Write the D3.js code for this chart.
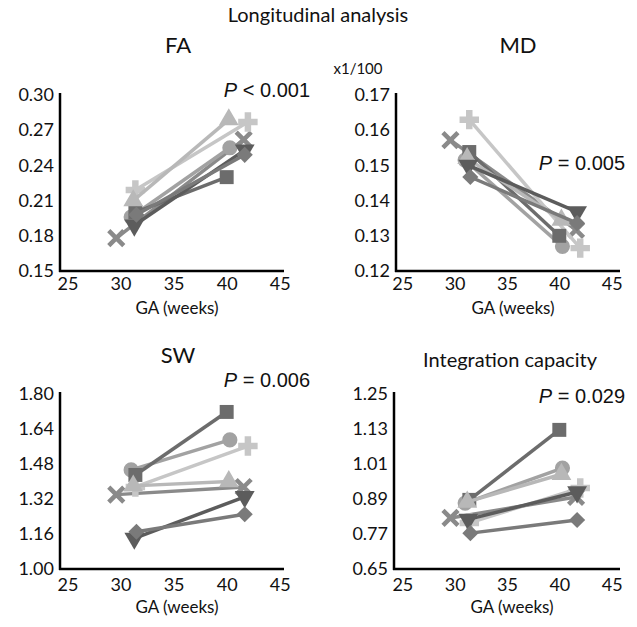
<!DOCTYPE html>
<html>
<head>
<meta charset="utf-8">
<title>Longitudinal analysis</title>
<script src="https://cdn.jsdelivr.net/npm/d3@7"></script>
<style>
  body { margin: 0; background: #fff; }
  text { font-family: Lato, "Open Sans", sans-serif; fill: #111; }
  .pval { font-family: "Liberation Sans", Arial, sans-serif; }
</style>
</head>
<body>
<svg id="chart" width="637" height="627"></svg>
<script>
// one entry per infant, marker shape names
const subjects = ["x", "plus", "circle", "square", "triUp", "triDown", "diamond"];

// gestational age at the two scans (weeks)
const gaScan1 = [29.6, 31.4, 31.0, 31.4, 31.2, 31.3, 31.5];
const gaScan2 = [41.6, 42.0, 40.3, 40.0, 40.2, 41.7, 41.7];

const faScan1 = [0.178, 0.219, 0.196, 0.200, 0.210, 0.189, 0.198];
const faScan2 = [0.262, 0.277, 0.255, 0.230, 0.279, 0.253, 0.249];
const mdScan1 = [0.1572, 0.163, 0.1515, 0.1538, 0.152, 0.150, 0.1467];
const mdScan2 = [0.1317, 0.1265, 0.127, 0.130, 0.1345, 0.1368, 0.1336];
const swScan1 = [1.34, 1.375, 1.453, 1.43, 1.38, 1.14, 1.17];
const swScan2 = [1.375, 1.562, 1.59, 1.718, 1.40, 1.33, 1.25];
const icScan1 = [0.825, 0.808, 0.876, 0.887, 0.88, 0.82, 0.773];
const icScan2 = [0.897, 0.928, 0.996, 1.127, 0.975, 0.914, 0.818];

const xTicks = [25, 30, 35, 40, 45];
const faTicks = [0.15, 0.18, 0.21, 0.24, 0.27, 0.30];
const mdTicks = [0.12, 0.13, 0.14, 0.15, 0.16, 0.17];
const swTicks = [1.00, 1.16, 1.32, 1.48, 1.64, 1.80];
const icTicks = [0.65, 0.77, 0.89, 1.01, 1.13, 1.25];

const pLabels = ["< 0.001", "= 0.005", "= 0.006", "= 0.029"];

// styling for each infant
const colors = {
  x: "#8a8a8a", plus: "#c6c6c6", circle: "#a2a2a2", square: "#6c6c6c",
  triUp: "#b8b8b8", triDown: "#5c5c5c", diamond: "#7a7a7a"
};

// panel layout
const panels = [
  { title: "FA", s1: faScan1, s2: faScan2, ticks: faTicks, fmt: ".2f",
    left: 60, right: 284, xDom: [24.3, 45.4], yRange: [271, 95], gaY: 310, pad: 6,
    tx: 178, ty: 47, px: 310, py: 92, p: pLabels[0] },
  { title: "MD", s1: mdScan1, s2: mdScan2, ticks: mdTicks, fmt: ".2f",
    left: 396, right: 620, xDom: [24.4, 45.8], yRange: [271, 95], gaY: 310, pad: 6,
    tx: 518, ty: 47, px: 625, py: 165, p: pLabels[1] },
  { title: "SW", s1: swScan1, s2: swScan2, ticks: swTicks, fmt: ".2f",
    left: 60, right: 284, xDom: [24.3, 45.4], yRange: [569, 394], gaY: 609, pad: 9,
    tx: 178, ty: 357, px: 310, py: 382, p: pLabels[2] },
  { title: "Integration capacity", s1: icScan1, s2: icScan2, ticks: icTicks, fmt: ".2f",
    left: 394, right: 620, xDom: [24.2, 45.8], yRange: [569, 394], gaY: 609, pad: 9,
    tx: 510, ty: 362, px: 625, py: 398, p: pLabels[3] }
];

const svg = d3.select("#chart");

svg.append("text")
  .attr("x", 318).attr("y", 17)
  .attr("text-anchor", "middle").attr("dominant-baseline", "middle")
  .style("font-size", "20px")
  .text("Longitudinal analysis");

svg.append("text")
  .attr("x", 358).attr("y", 70)
  .attr("text-anchor", "middle").attr("dominant-baseline", "middle")
  .style("font-size", "15px")
  .text("x1/100");

function marker(g, shape, x, y, color) {
  if (shape === "x") {
    const r = 7.5;
    g.append("path")
      .attr("d", `M${x - r},${y - r}L${x + r},${y + r}M${x - r},${y + r}L${x + r},${y - r}`)
      .attr("stroke", color).attr("stroke-width", 4.5).attr("fill", "none");
    return;
  }
  const types = {
    plus: [d3.symbolCross, 210, 0],
    circle: [d3.symbolCircle, 180, 0],
    square: [d3.symbolSquare, 195, 0],
    triUp: [d3.symbolTriangle, 170, 0],
    triDown: [d3.symbolTriangle, 170, 180],
    diamond: [d3.symbolSquare, 130, 45]
  };
  const [type, size, rot] = types[shape];
  g.append("path")
    .attr("d", d3.symbol().type(type).size(size)())
    .attr("transform", `translate(${x},${y}) rotate(${rot})`)
    .attr("fill", color);
}

panels.forEach(p => {
  const x = d3.scaleLinear().domain(p.xDom).range([p.left, p.right]);
  const y = d3.scaleLinear().domain([p.ticks[0], p.ticks[p.ticks.length - 1]]).range(p.yRange);
  const base = p.yRange[0];
  const g = svg.append("g");

  // axes
  const xa = g.append("g")
    .attr("transform", `translate(0,${base})`)
    .call(d3.axisBottom(x).tickValues(xTicks).tickSize(0).tickPadding(p.pad).tickSizeOuter(0));
  const ya = g.append("g")
    .attr("transform", `translate(${p.left},0)`)
    .call(d3.axisLeft(y).tickValues(p.ticks).tickFormat(d3.format(p.fmt)).tickSize(0).tickPadding(6).tickSizeOuter(0));
  [xa, ya].forEach(a => {
    a.select(".domain").attr("stroke", "#000").attr("stroke-width", 2.5);
    a.selectAll("text").style("font-size", "18px").style("font-family", "Lato, sans-serif").attr("fill", "#111");
  });
  ya.select(".domain").attr("d", `M0,${base + 1}V${p.yRange[1] - 2}`);
  xa.select(".domain").attr("d", `M${p.left - 1},0H${p.right}`);

  g.append("text")
    .attr("x", (p.left + p.right) / 2 + 5).attr("y", p.gaY)
    .attr("text-anchor", "middle").attr("dominant-baseline", "middle")
    .style("font-size", "17px")
    .text("GA (weeks)");

  g.append("text")
    .attr("x", p.tx).attr("y", p.ty)
    .attr("text-anchor", "middle").attr("dominant-baseline", "middle")
    .style("font-size", p.title.length > 2 ? "20px" : "22px")
    .text(p.title);

  const pt = g.append("text")
    .attr("class", "pval")
    .attr("x", p.px).attr("y", p.py)
    .attr("text-anchor", "end").attr("dominant-baseline", "middle")
    .style("font-size", "20px");
  pt.append("tspan").style("font-style", "italic").text("P");
  pt.append("tspan").text(" " + p.p);

  // one line + two markers per infant
  subjects.forEach((s, i) => {
    const x1 = x(gaScan1[i]), y1 = y(p.s1[i]);
    const x2 = x(gaScan2[i]), y2 = y(p.s2[i]);
    const c = colors[s];
    g.append("line")
      .attr("x1", x1).attr("y1", y1).attr("x2", x2).attr("y2", y2)
      .attr("stroke", c).attr("stroke-width", 3.5);
    marker(g, s, x1, y1, c);
    marker(g, s, x2, y2, c);
  });
});
</script>
</body>
</html>
